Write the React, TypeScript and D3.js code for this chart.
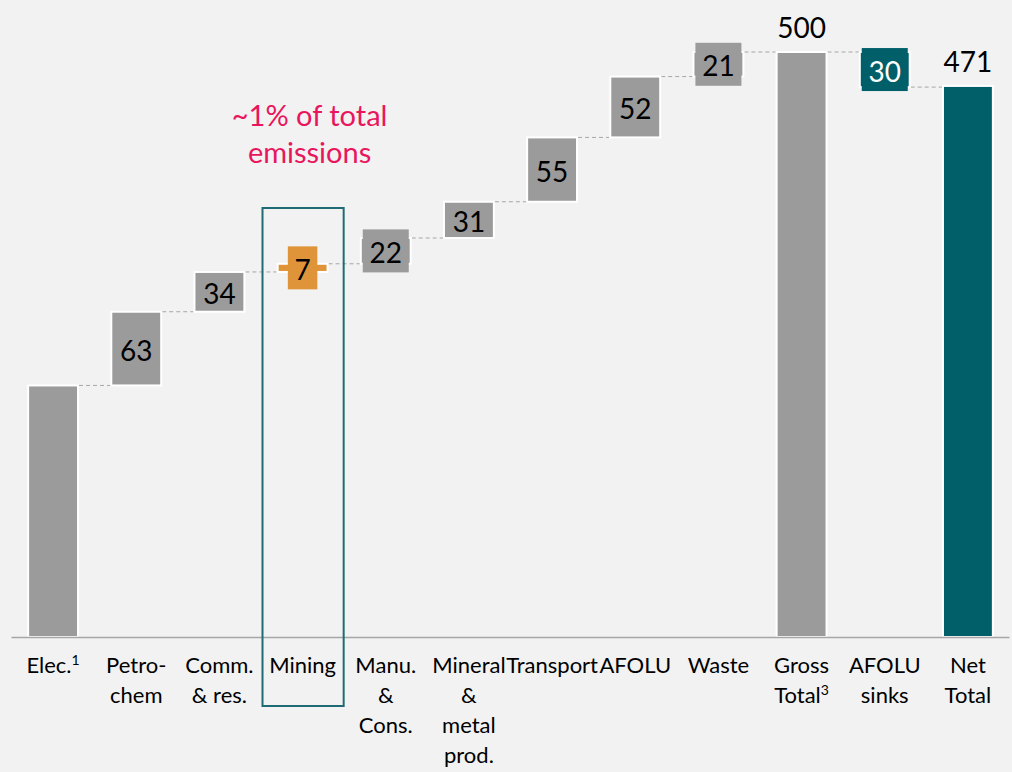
import React from "react";
import * as d3 from "d3";

const categories = ["Elec.", "Petro-chem", "Comm. & res.", "Mining", "Manu. & Cons.", "Mineral & metal prod.", "Transport", "AFOLU", "Waste", "Gross Total", "AFOLU sinks", "Net Total"];
const labelLines = [["Elec."], ["Petro-", "chem"], ["Comm.", "& res."], ["Mining"], ["Manu.", "&", "Cons."], ["Mineral", "&", "metal", "prod."], ["Transport"], ["AFOLU"], ["Waste"], ["Gross", "Total"], ["AFOLU", "sinks"], ["Net", "Total"]];
const superscripts = ["1", "", "", "", "", "", "", "", "", "3", "", ""];
const values = [215, 63, 34, 7, 22, 31, 55, 52, 21, 500, -30, 471];
const barTypes = ["start", "step", "step", "step", "step", "step", "step", "step", "step", "total", "step", "total"];
const barKinds = ["gray", "gray", "gray", "orange", "gray", "gray", "gray", "gray", "gray", "gray", "teal", "teal"];
const showValue = [false, true, true, true, true, true, true, true, true, true, true, true];
const highlightCategory = "Mining";
const annotationLines = ["~1% of total", "emissions"];

const W = 1012;
const H = 772;
const palette: Record<string, string> = { gray: "#9b9b9b", orange: "#e0943a", teal: "#005f69" };
const FONT = "Lato, 'Open Sans', sans-serif";

export default function App() {
  const x = d3.scaleBand<string>().domain(categories).range([11.5, 1009.5]).paddingInner(0.4).paddingOuter(0.2);
  const y = d3.scaleLinear().domain([0, 500]).range([637, 52]);

  let running = 0;
  const bars = categories.map((c, i) => {
    const v = values[i];
    let lo: number, hi: number, end: number;
    if (barTypes[i] === "step") {
      lo = Math.min(running, running + v);
      hi = Math.max(running, running + v);
      end = running + v;
    } else {
      lo = 0;
      hi = v;
      end = v;
    }
    running = end;
    return { c, i, v, lo, hi, end, type: barTypes[i], color: palette[barKinds[i]] };
  });

  const bw = x.bandwidth();
  const step = x.step();
  const bandLeft = (c: string) => (x(c) as number) - (step - bw) / 2;

  const hc = highlightCategory;

  return (
    <svg width={W} height={H} style={{ position: "fixed", left: 0, top: 0, display: "block", background: "#f2f2f2" }} fontFamily={FONT}>
      <rect x={0} y={0} width={W} height={H} fill="#f2f2f2" />
      {bars.slice(0, -1).map((b, i) => {
        const next = bars[i + 1];
        const yy = y(b.end);
        return (
          <line key={"c" + i} x1={(x(b.c) as number) + bw + 1} x2={(x(next.c) as number) - 1} y1={yy} y2={yy} stroke="#a6a6a6" strokeWidth={1} strokeDasharray="4,3" />
        );
      })}
      {bars.map((b) => {
        const x0 = x(b.c) as number;
        const y0 = y(b.hi);
        const h = y(b.lo) - y(b.hi);
        const cx = x0 + bw / 2;
        const cy = y0 + h / 2;
        const label = String(Math.abs(b.v));
        const tw = label.length * 16.5;
        const needBox = showValue[b.i] && b.type === "step" && h < 36;
        const boxW = tw + 13;
        const boxH = 43;
        const textFill = barKinds[b.i] === "teal" ? "#ffffff" : "#000000";
        return (
          <g key={"b" + b.i}>
            <rect x={x0} y={y0} width={bw} height={h} fill={b.color} stroke="#ffffff" strokeWidth={2} />
            {needBox && <rect x={cx - boxW / 2} y={cy - boxH / 2} width={boxW} height={boxH} fill={b.color} />}
            {showValue[b.i] && b.type === "step" && (
              <text x={cx} y={cy + 1} textAnchor="middle" dominantBaseline="central" fontSize={28} fill={textFill}>{label}</text>
            )}
            {showValue[b.i] && b.type === "total" && (
              <text x={cx} y={y0 - 14} textAnchor="middle" fontSize={28} fill="#000000">{label}</text>
            )}
          </g>
        );
      })}
      <line x1={11.5} x2={1009.5} y1={637.5} y2={637.5} stroke="#a6a6a6" strokeWidth={1.5} />
      {categories.map((c, i) => {
        const cx = (x(c) as number) + bw / 2;
        const lines = labelLines[i];
        return (
          <text key={"l" + i} textAnchor="middle" fontSize={22} fill="#000000">
            {lines.map((ln, j) => (
              <tspan key={j} x={cx} y={673 + j * 30}>
                {ln}
                {j === lines.length - 1 && superscripts[i] ? (
                  <tspan fontSize={14} dy={-8}>{superscripts[i]}</tspan>
                ) : null}
              </tspan>
            ))}
          </text>
        );
      })}
      <rect x={bandLeft(hc) + 1.5} y={208} width={step - 2} height={498} fill="none" stroke="#1f6b75" strokeWidth={2} />
      <text textAnchor="middle" fontSize={29} fill="#e8175d">
        {annotationLines.map((ln, j) => (
          <tspan key={j} x={bandLeft(hc) + step / 2 + 7} y={126 + j * 37}>{ln}</tspan>
        ))}
      </text>
    </svg>
  );
}
